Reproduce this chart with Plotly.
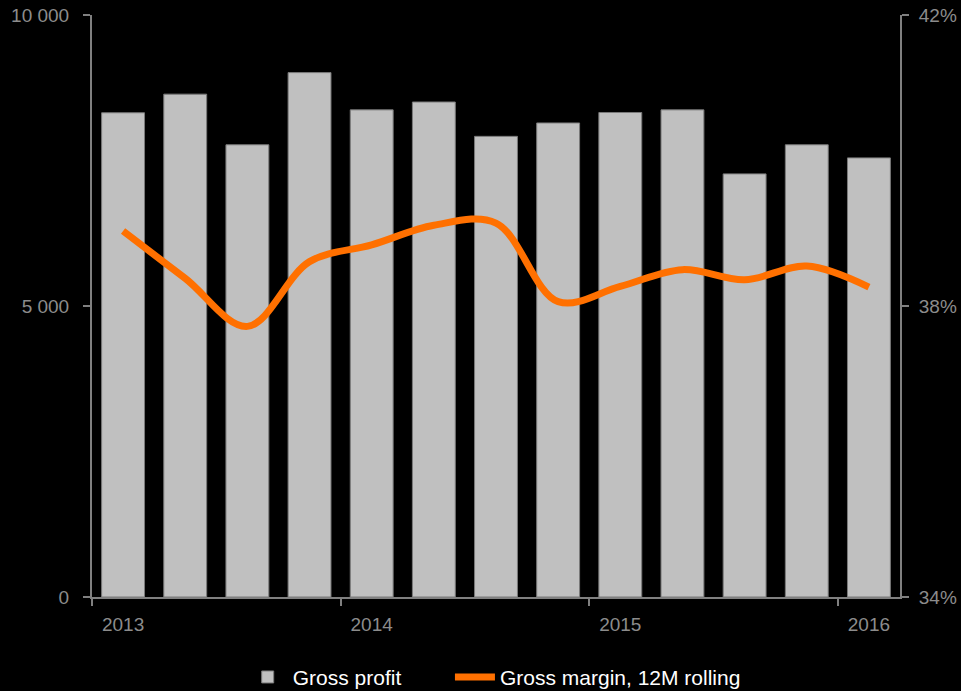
import plotly.graph_objects as go

# Quarterly gross profit (bars, left axis) and 12M rolling gross margin (line, right axis)
quarters = ["2013 Q1", "2013 Q2", "2013 Q3", "2013 Q4",
            "2014 Q1", "2014 Q2", "2014 Q3", "2014 Q4",
            "2015 Q1", "2015 Q2", "2015 Q3", "2015 Q4",
            "2016 Q1"]
gross_profit = [8320, 8640, 7770, 9010, 8370, 8505, 7915, 8145, 8325, 8370, 7270, 7770, 7545]
gross_margin = [39.03, 38.38, 37.72, 38.61, 38.84, 39.11, 39.14, 38.06, 38.27, 38.50, 38.36, 38.55, 38.26]

year_labels = ["2013", "2014", "2015", "2016"]
left_ticks = [0, 5000, 10000]
left_tick_text = ["0", "5 000", "10 000"]
right_ticks = [34, 38, 42]
right_tick_text = ["34%", "38%", "42%"]

pos = list(range(len(quarters)))
year_pos = pos[::4]
year_bounds = [p - 0.5 for p in year_pos]

AXIS = "#808080"
TICKFONT = dict(family="Liberation Sans, Arial, sans-serif", size=19, color="#8c8c8c")
LEGENDFONT = dict(family="Liberation Sans, Arial, sans-serif", size=21, color="white")

fig = go.Figure()
fig.add_trace(go.Bar(
    x=pos, y=gross_profit, name="Gross profit", legend="legend",
    marker=dict(color="#c0c0c0", line=dict(color="#7a7a7a", width=1)),
    hovertext=quarters,
))
fig.add_trace(go.Scatter(
    x=pos, y=gross_margin, name="Gross margin, 12M rolling", legend="legend2",
    mode="lines", line=dict(color="#ff7000", width=7, shape="spline", smoothing=1.0),
    xaxis="x2", yaxis="y2", hovertext=quarters,
))

fig.update_layout(
    width=961, height=691,
    paper_bgcolor="black", plot_bgcolor="black",
    margin=dict(l=92, r=61, t=15, b=94, autoexpand=False),
    bargap=0.31,
    showlegend=True,
    legend=dict(orientation="h", x=0.1865, xanchor="left", y=-0.138, yanchor="middle",
                font=LEGENDFONT, itemwidth=40, bgcolor="rgba(0,0,0,0)"),
    legend2=dict(orientation="h", x=0.443, xanchor="left", y=-0.138, yanchor="middle",
                 font=LEGENDFONT, itemwidth=40, bgcolor="rgba(0,0,0,0)"),
    xaxis=dict(range=[-0.5, len(pos) - 0.5], tickmode="array", tickvals=year_bounds,
               showticklabels=False, ticks="outside", ticklen=7, tickwidth=2, tickcolor=AXIS,
               showline=True, linecolor=AXIS, linewidth=2, showgrid=False, zeroline=False,
               automargin=False),
    xaxis2=dict(range=[-0.5, len(pos) - 0.5], overlaying="x", anchor="free", position=0,
                side="bottom", tickmode="array", tickvals=year_pos, ticktext=year_labels,
                ticks="", tickfont=TICKFONT, ticklabelstandoff=14,
                showline=False, showgrid=False, zeroline=False, automargin=False),
    yaxis=dict(range=[0, 10000], tickmode="array", tickvals=left_ticks, ticktext=left_tick_text,
               ticks="outside", ticklen=7, tickwidth=2, tickcolor=AXIS, tickfont=TICKFONT,
               ticklabelstandoff=10,
               showline=True, linecolor=AXIS, linewidth=2, showgrid=False, zeroline=False,
               automargin=False),
    yaxis2=dict(range=[34, 42], overlaying="y", side="right", anchor="x",
                tickmode="array", tickvals=right_ticks, ticktext=right_tick_text,
                ticks="outside", ticklen=7, tickwidth=2, tickcolor=AXIS, tickfont=TICKFONT,
                ticklabelstandoff=6,
                showline=True, linecolor=AXIS, linewidth=2, showgrid=False, zeroline=False,
                automargin=False),
)

fig.write_html("out.html")
